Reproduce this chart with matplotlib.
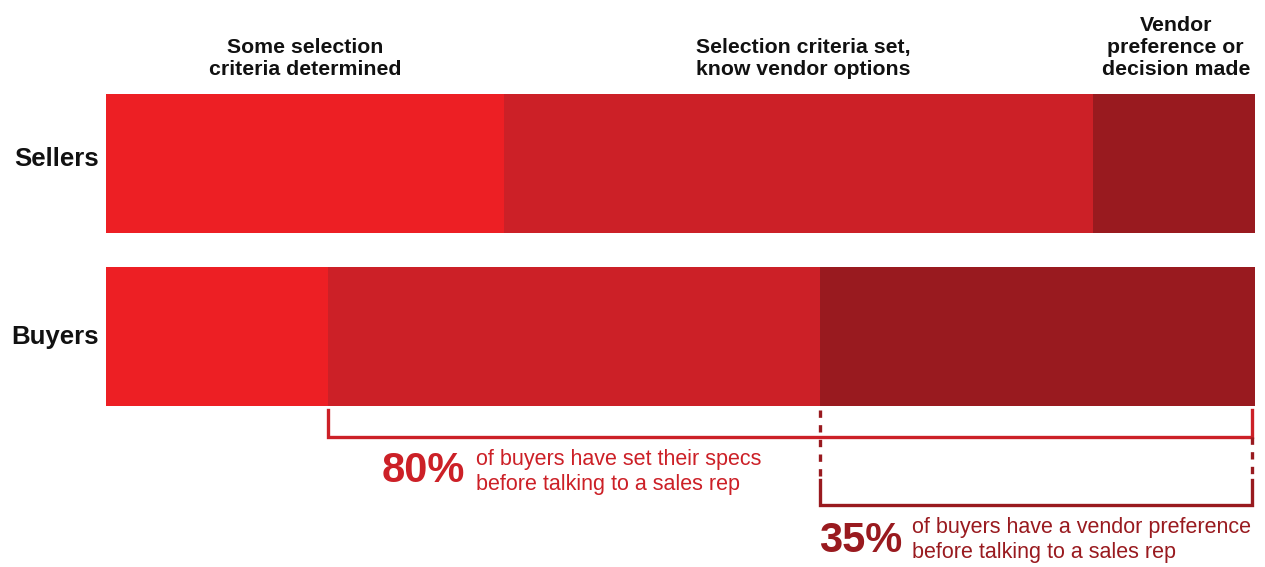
import numpy as np
from matplotlib import pyplot as plt

plt.rcParams['font.family'] = ['Liberation Sans', 'DejaVu Sans']

groups = ['Sellers', 'Buyers']
stages = ['Some selection\ncriteria determined',
          'Selection criteria set,\nknow vendor options',
          'Vendor\npreference or\ndecision made']
sellers = [34.6, 51.3, 14.1]
buyers = [19.3, 42.8, 37.9]
colors = ['#ED1F24', '#CC2027', '#991A1F']

share_specs = '80%'
share_vendor = '35%'
note_specs = 'of buyers have set their specs\nbefore talking to a sales rep'
note_vendor = 'of buyers have a vendor preference\nbefore talking to a sales rep'

fig = plt.figure(figsize=(12.65, 5.67), dpi=100)
ax = fig.add_axes([0, 0, 1, 1])
# x in percent, y in pixels from the top
px = 1149 / 100.0
ax.set_xlim(-106 / px, 100 + 10 / px)
ax.set_ylim(567, 0)
ax.axis('off')

rows = {'Sellers': sellers, 'Buyers': buyers}
ycent = {'Sellers': 163.5, 'Buyers': 336.5}
label_base = {'Sellers': 166, 'Buyers': 344}
for g in groups:
    left = 0
    for v, c in zip(rows[g], colors):
        ax.barh(ycent[g], v, height=139, left=left, color=c, linewidth=0)
        left += v
    ax.text(-0.6, label_base[g], g, ha='right', va='baseline',
            fontsize=18.5, fontweight='bold', color='#111111')

# stage labels above the sellers bar
label_x = [17.3, 60.7, 93.1]
for s, x in zip(stages, label_x):
    ax.text(x, 79, s, ha='center', va='bottom', fontsize=15.3,
            fontweight='bold', color='#111111', linespacing=1.2)

# bracket for 80%
b1 = buyers[0]
b2 = buyers[0] + buyers[1]
right = 99.7
lw = 2.4
ax.plot([b1, b1, right, right], [410, 437, 437, 410], color=colors[1],
        lw=lw, solid_joinstyle='miter')

# bracket for 35%
ax.plot([b2, b2], [410, 480], color=colors[2], lw=lw, ls=(0, (2.2, 2.2)))
ax.plot([right, right], [437, 480], color=colors[2], lw=lw, ls=(0, (2.2, 2.2)))
ax.plot([b2, b2, right, right], [480, 505, 505, 480], color=colors[2],
        lw=lw, solid_joinstyle='miter')

# annotations
ax.text((382 - 106) / px, 471, share_specs, ha='left', va='center',
        fontsize=30, fontweight='bold', color=colors[1])
ax.text((476 - 106) / px, 472, note_specs, ha='left', va='center',
        fontsize=15.5, color=colors[1], linespacing=1.28)
ax.text(b2, 541, share_vendor, ha='left', va='center',
        fontsize=30, fontweight='bold', color=colors[2])
ax.text((912 - 106) / px, 540, note_vendor, ha='left', va='center',
        fontsize=15.5, color=colors[2], linespacing=1.28)

fig.savefig('out.png', dpi=100)
